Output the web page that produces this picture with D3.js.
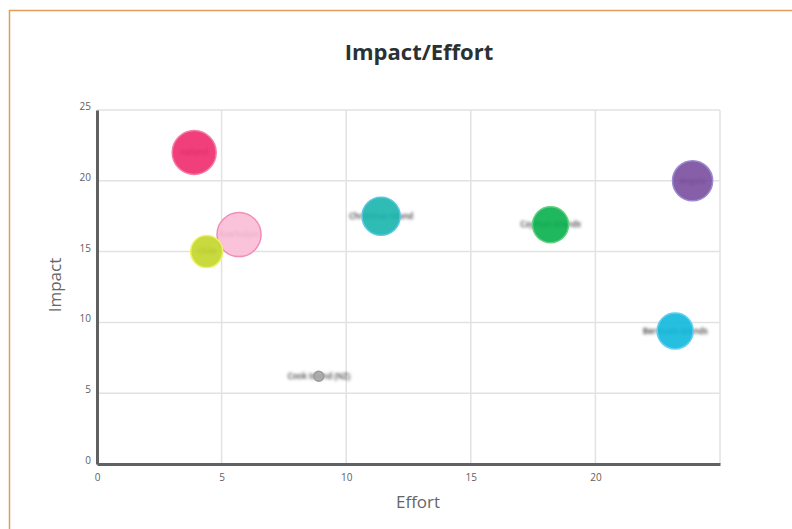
<!DOCTYPE html>
<html>
<head>
<meta charset="utf-8">
<script src="https://d3js.org/d3.v7.min.js"></script>
<style>
  html, body { margin: 0; padding: 0; background: #fff; }
  svg { display: block; }
</style>
</head>
<body>
<div id="chart"></div>
<script>
// Impact / effort bubble chart
const names   = ["Iceland", "Azerbaijan", "Chile", "Christmas Island", "Cayman Islands", "Angola", "Bermuda Islands", "Cook Island (NZ)"];
const effort  = [3.9, 5.7, 4.4, 11.4, 18.2, 23.9, 23.2, 8.9];
const impact  = [22.0, 16.2, 15.0, 17.5, 16.9, 20.0, 9.4, 6.2];
const weight  = [100, 100, 53, 75, 67, 83, 67, 5];
const fills   = ["#ee2a6b", "#f9bdd6", "#c3d629", "#17b5ad", "#07b04e", "#7a4c9f", "#10b8dd", "#a9a9ab"];
const strokes = ["#f47ea2", "#f08db9", "#ecf26a", "#5cc6e2", "#63cf80", "#9a8ad2", "#62cff1", "#9a9a9c"];
const xTicks  = [0, 5, 10, 15, 20];
const yTicks  = [0, 5, 10, 15, 20, 25];

const W = 792, H = 529;
const plot = { left: 97, right: 720, top: 110, bottom: 464 };

const svg = d3.select("#chart").append("svg")
  .attr("width", W).attr("height", H);

const defs = svg.append("defs");
defs.append("filter").attr("id", "soft")
  .attr("filterUnits", "userSpaceOnUse")
  .attr("x", 0).attr("y", 0).attr("width", W).attr("height", H)
  .append("feGaussianBlur").attr("stdDeviation", 1.6);

// outer frame
svg.append("rect")
  .attr("x", 9.5).attr("y", 10.5).attr("width", 900).attr("height", 700)
  .attr("fill", "none").attr("stroke", "#e39a5b").attr("stroke-width", 1.5);

const x = d3.scaleLinear().domain([0, 25]).range([plot.left, plot.right]);
const y = d3.scaleLinear().domain([0, 25]).range([plot.bottom, plot.top]);
const r = d3.scaleSqrt().domain([0, 100]).range([0, 22]);

// title
svg.append("text")
  .attr("x", 419).attr("y", 60)
  .attr("text-anchor", "middle")
  .attr("font-family", "'Open Sans', sans-serif")
  .attr("font-weight", 700)
  .attr("font-size", 22)
  .attr("fill", "#2a3134")
  .text("Impact/Effort");

// grid
const grid = svg.append("g").attr("stroke", "#e2e2e2").attr("stroke-width", 1.5);
grid.selectAll("line.h").data(yTicks.filter(d => d > 0)).join("line")
  .attr("x1", plot.left).attr("x2", plot.right)
  .attr("y1", d => y(d)).attr("y2", d => y(d));
grid.selectAll("line.v").data(xTicks.filter(d => d > 0).concat([25])).join("line")
  .attr("y1", plot.top).attr("y2", plot.bottom)
  .attr("x1", d => x(d)).attr("x2", d => x(d));

// axes
const xAxis = svg.append("g")
  .attr("transform", `translate(0,${plot.bottom})`)
  .call(d3.axisBottom(x).tickValues(xTicks).tickSize(0).tickPadding(10));
const yAxis = svg.append("g")
  .attr("transform", `translate(${plot.left},0)`)
  .call(d3.axisLeft(y).tickValues(yTicks).tickSize(0).tickPadding(6));
[xAxis, yAxis].forEach(a => {
  a.select(".domain").attr("stroke", "#5f6163").attr("stroke-width", 3);
  a.selectAll("text")
    .attr("font-family", "'Open Sans', sans-serif")
    .attr("font-size", 10)
    .attr("fill", "#5e5e5e");
});
yAxis.selectAll(".tick text").attr("dy", "-0.05em");

// axis titles
svg.append("text")
  .attr("x", 418).attr("y", 508)
  .attr("text-anchor", "middle")
  .attr("font-family", "'Open Sans', sans-serif")
  .attr("font-weight", 400)
  .attr("font-size", 17)
  .attr("fill", "#666")
  .text("Effort");
svg.append("text")
  .attr("transform", `translate(61,${(plot.top + plot.bottom) / 2 - 2}) rotate(-90)`)
  .attr("text-anchor", "middle")
  .attr("font-family", "'Open Sans', sans-serif")
  .attr("font-weight", 400)
  .attr("font-size", 17)
  .attr("fill", "#666")
  .text("Impact");

const data = names.map((n, i) => ({
  name: n, effort: effort[i], impact: impact[i], weight: weight[i],
  fill: fills[i], stroke: strokes[i]
}));

// labels sit under the bubbles, softened
svg.append("g").attr("filter", "url(#soft)")
  .selectAll("text").data(data).join("text")
  .attr("x", d => x(d.effort)).attr("y", d => y(d.impact))
  .attr("dy", "0.35em")
  .attr("text-anchor", "middle")
  .attr("font-family", "'Open Sans', sans-serif")
  .attr("font-size", 8)
  .attr("font-weight", 600)
  .attr("fill", "#3a3a3a")
  .text(d => d.name);

svg.append("g")
  .selectAll("circle").data(data).join("circle")
  .attr("cx", d => x(d.effort)).attr("cy", d => y(d.impact))
  .attr("r", d => r(d.weight))
  .attr("fill", d => d.fill)
  .attr("fill-opacity", 0.9)
  .attr("stroke", d => d.stroke)
  .attr("stroke-width", 1.5);
</script>
</body>
</html>
